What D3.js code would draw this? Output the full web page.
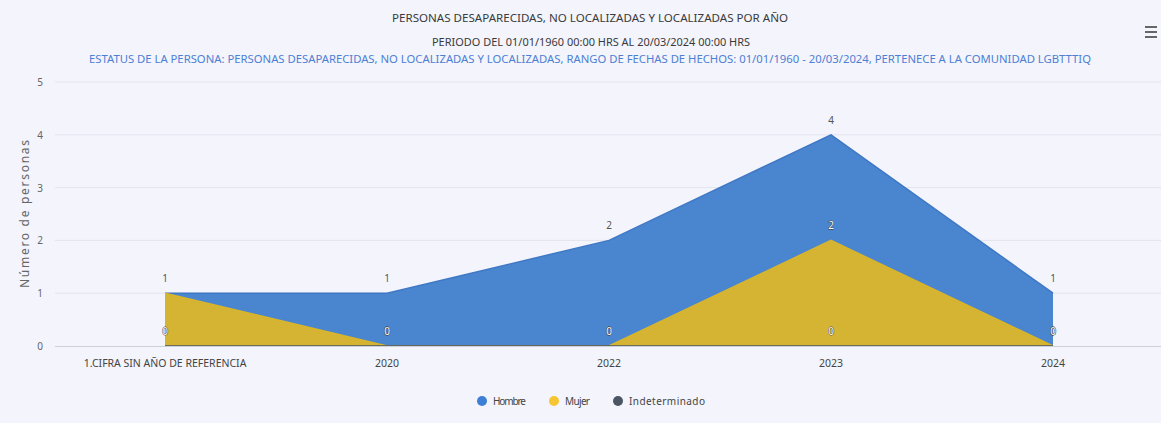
<!DOCTYPE html>
<meta charset="utf-8">
<title>Personas desaparecidas por año</title>
<script src="https://d3js.org/d3.v7.min.js"></script>
<style>
  body { margin: 0; background: #f3f4fc; }
  svg { display: block; font-family: "Noto Sans", "Open Sans", sans-serif; }
  .grid line { stroke: #e3e4ee; stroke-width: 1px; }
  .title { font-size: 11px; fill: #3a3a3a; text-anchor: middle; }
  .subtitle2 { font-size: 10.5px; fill: #4d7fd4; text-anchor: middle; }
  .ylab { font-size: 10px; fill: #666; text-anchor: end; }
  .xlab { font-size: 10.5px; fill: #444; text-anchor: middle; }
  .dlabel { font-size: 10px; text-anchor: middle; paint-order: stroke; stroke-linejoin: round; }
  .legend text { font-size: 10px; fill: #444; }
</style>
<div id="chart"></div>
<script>
// categorias y series
var categories = ["1.CIFRA SIN AÑO DE REFERENCIA", "2020", "2022", "2023", "2024"];
var hombre = [1, 1, 2, 4, 1];
var mujer = [1, 0, 0, 2, 0];
var indeterminado = [0, 0, 0, 0, 0];
var yTicks = [0, 1, 2, 3, 4, 5];

var seriesNames = ["Hombre", "Mujer", "Indeterminado"];
var seriesData = [hombre, mujer, indeterminado];
var areaColors = ["#4a85cf", "#d5b333", "#4b5563"];
var lineColors = ["#3f78c4", "#d9b52a", "#4b5563"];
var legendColors = ["#3d7fd6", "#f6c531", "#4b5563"];

var width = 1161, height = 423;

var svg = d3.select("#chart")
  .append("svg")
    .attr("width", width)
    .attr("height", height);

svg.append("rect")
  .attr("width", width)
  .attr("height", height)
  .attr("fill", "#f3f4fc");

// scales
var x = d3.scalePoint()
  .domain(categories)
  .range([54, 1164])
  .padding(0.5);

var y = d3.scaleLinear()
  .domain([0, 5])
  .range([346, 82]);

// titles
svg.append("text").attr("class", "title")
  .attr("x", 590).attr("y", 22)
  .attr("textLength", 396).attr("lengthAdjust", "spacingAndGlyphs")
  .text("PERSONAS DESAPARECIDAS, NO LOCALIZADAS Y LOCALIZADAS POR AÑO");
svg.append("text").attr("class", "title")
  .attr("x", 591).attr("y", 46)
  .attr("textLength", 318).attr("lengthAdjust", "spacingAndGlyphs")
  .text("PERIODO DEL 01/01/1960 00:00 HRS AL 20/03/2024 00:00 HRS");
svg.append("text").attr("class", "subtitle2")
  .attr("x", 590).attr("y", 63)
  .attr("textLength", 1002).attr("lengthAdjust", "spacingAndGlyphs")
  .text("ESTATUS DE LA PERSONA: PERSONAS DESAPARECIDAS, NO LOCALIZADAS Y LOCALIZADAS, RANGO DE FECHAS DE HECHOS: 01/01/1960 - 20/03/2024, PERTENECE A LA COMUNIDAD LGBTTTIQ");

// grid
svg.append("g").attr("class", "grid")
  .selectAll("line")
  .data(yTicks.filter(function(d) { return d > 0; }))
  .enter().append("line")
    .attr("x1", 55).attr("x2", width)
    .attr("y1", function(d) { return y(d); })
    .attr("y2", function(d) { return y(d); });

svg.selectAll(".ylab")
  .data(yTicks)
  .enter().append("text")
    .attr("class", "ylab")
    .attr("x", 43)
    .attr("y", function(d) { return y(d) + 4; })
    .text(function(d) { return d; });

svg.append("text")
  .attr("transform", "translate(29," + 214 + ")rotate(-90)")
  .attr("text-anchor", "middle")
  .attr("textLength", 148)
  .style("font-size", "12px")
  .style("fill", "#666")
  .text("Número de personas");

// areas
var area = d3.area()
  .x(function(d, i) { return x(categories[i]); })
  .y0(y(0))
  .y1(function(d) { return y(d); });
var line = d3.line()
  .x(function(d, i) { return x(categories[i]); })
  .y(function(d) { return y(d); });

seriesData.forEach(function(s, k) {
  svg.append("path")
    .attr("d", area(s))
    .attr("fill", areaColors[k]);
  svg.append("path")
    .attr("d", line(s))
    .attr("fill", "none")
    .attr("stroke", lineColors[k])
    .attr("stroke-width", 1.5);
});

// x axis line
svg.append("line")
  .attr("x1", 55).attr("x2", width)
  .attr("y1", y(0) + 0.5).attr("y2", y(0) + 0.5)
  .attr("stroke", "#ccd0dc");

svg.selectAll(".xlab")
  .data(categories)
  .enter().append("text")
    .attr("class", "xlab")
    .attr("x", function(d) { return x(d); })
    .attr("y", 367)
    .text(function(d) { return d; });

// data labels
seriesData.forEach(function(s, k) {
  s.forEach(function(v, i) {
    var top = d3.max(seriesData, function(ss) { return ss[i]; });
    var isTop = v === top;
    svg.append("text")
      .attr("class", "dlabel")
      .attr("x", x(categories[i]))
      .attr("y", y(v) - 11)
      .attr("fill", isTop ? "#555" : "#fff")
      .attr("stroke", isTop ? "#f3f4fc" : "#333")
      .attr("stroke-width", isTop ? 2 : 0.8)
      .text(v);
  });
});

// legend
var legendWidths = [33, 25, 76];
var legend = svg.append("g").attr("class", "legend")
  .attr("transform", "translate(482,401)");
var lx = 0;
seriesNames.forEach(function(n, k) {
  var g = legend.append("g").attr("transform", "translate(" + lx + ",0)");
  g.append("circle").attr("cx", 0).attr("cy", 0).attr("r", 5).attr("fill", legendColors[k]);
  g.append("text").attr("x", 11).attr("y", 4)
    .attr("textLength", legendWidths[k])
    .text(n);
  lx += 11 + legendWidths[k] + 28;
});

// menu icon
[0, 5, 10].forEach(function(d) {
  svg.append("line")
    .attr("x1", 1145).attr("x2", 1157)
    .attr("y1", 27 + d).attr("y2", 27 + d)
    .attr("stroke", "#666").attr("stroke-width", 2);
});
</script>
